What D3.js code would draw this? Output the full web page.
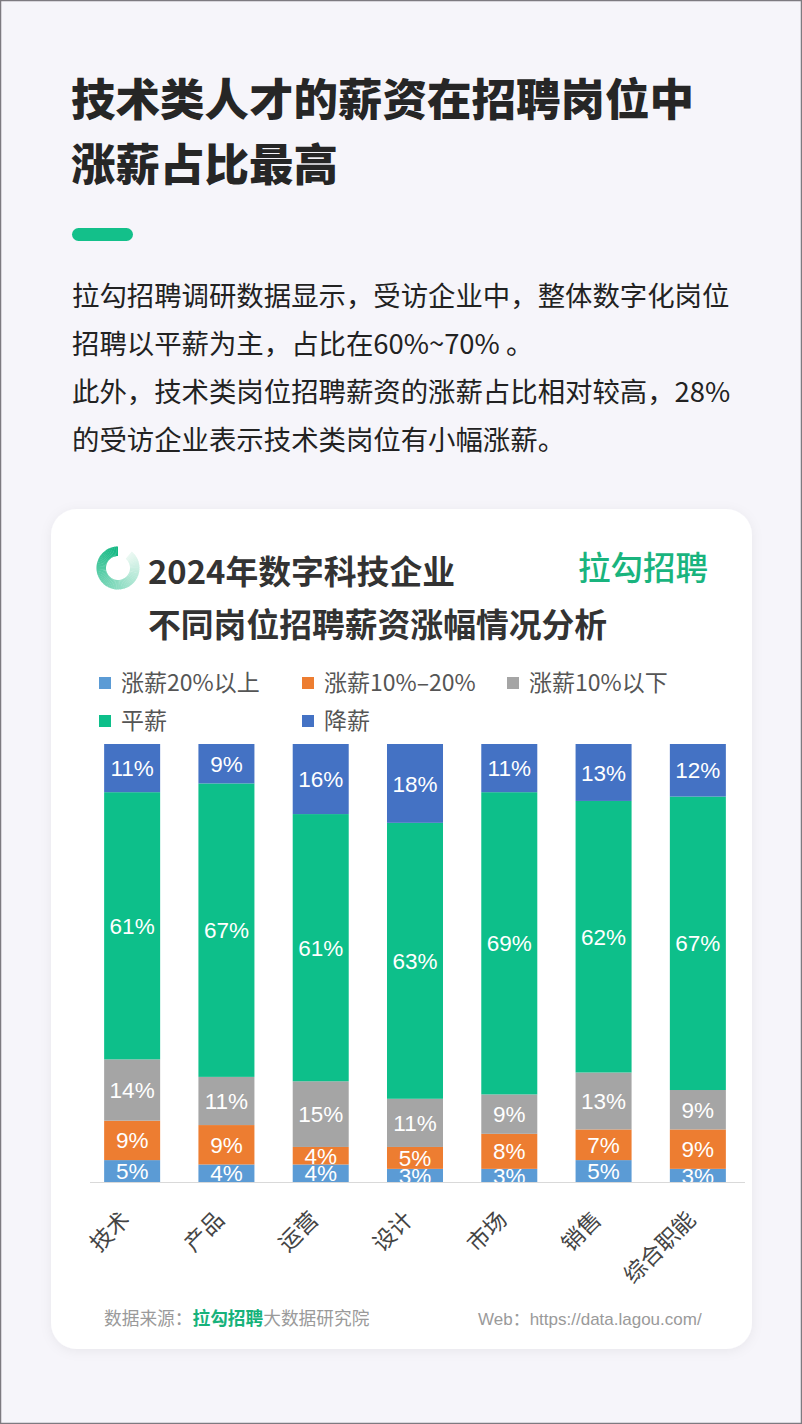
<!DOCTYPE html>
<html>
<head>
<meta charset="utf-8">
<script src="https://cdn.jsdelivr.net/npm/d3@7"></script>
<style>
  html, body { margin: 0; padding: 0; background: #f6f5fa; }
  svg { display: block; }
</style>
</head>
<body>
<svg id="chart" width="802" height="1424"></svg>
<script>
// ---------- data ----------
const categories = ['技术', '产品', '运营', '设计', '市场', '销售', '综合职能'];
const seriesNames = ['涨薪20%以上', '涨薪10%–20%', '涨薪10%以下', '平薪', '降薪'];
const rise20Plus = [5, 4, 4, 3, 3, 5, 3];
const rise10to20 = [9, 9, 4, 5, 8, 7, 9];
const riseBelow10 = [14, 11, 15, 11, 9, 13, 9];
const flatPay = [61, 67, 61, 63, 69, 62, 67];
const payCut = [11, 9, 16, 18, 11, 13, 12];
const seriesColors = ['#5b9bd5', '#ed7d31', '#a5a5a5', '#0dbf8a', '#4472c4'];

const titleLines = ['技术类人才的薪资在招聘岗位中', '涨薪占比最高'];
const paraLines = [
  '拉勾招聘调研数据显示，受访企业中，整体数字化岗位',
  '招聘以平薪为主，占比在60%~70% 。',
  '此外，技术类岗位招聘薪资的涨薪占比相对较高，28%',
  '的受访企业表示技术类岗位有小幅涨薪。'
];
const chartTitleLines = ['2024年数字科技企业', '不同岗位招聘薪资涨幅情况分析'];

const allSeries = [rise20Plus, rise10to20, riseBelow10, flatPay, payCut];
const table = categories.map((c, i) => {
  const o = { cat: c };
  seriesNames.forEach((s, j) => o[s] = allSeries[j][i]);
  return o;
});

const CJK = '"Noto Sans CJK SC", "Noto Sans", sans-serif';
const NUM = '"Liberation Sans", Arial, "Noto Sans CJK SC", sans-serif';

const svg = d3.select('#chart');

// page frame
svg.append('rect').attr('x', 0.5).attr('y', 0.5).attr('width', 801).attr('height', 1423)
  .attr('fill', '#f6f5fa').attr('stroke', '#7d7a80').attr('stroke-width', 1.5);

// heading
svg.append('g').selectAll('text').data(titleLines).join('text')
  .attr('x', 71).attr('y', (d, i) => 116 + i * 65)
  .attr('font-family', CJK).attr('font-weight', 900).attr('font-size', 44.5)
  .attr('fill', '#262626').text(d => d);

svg.append('rect').attr('x', 72).attr('y', 228).attr('width', 61).attr('height', 13)
  .attr('rx', 6.5).attr('fill', '#13c08a');

svg.append('g').selectAll('text').data(paraLines).join('text')
  .attr('x', 72).attr('y', (d, i) => 306 + i * 48)
  .attr('font-family', CJK).attr('font-size', 27.4).attr('fill', '#222')
  .text(d => d);

// card
const defs = svg.append('defs');
const f = defs.append('filter').attr('id', 'shadow').attr('x', '-10%').attr('y', '-10%')
  .attr('width', '120%').attr('height', '120%');
f.append('feDropShadow').attr('dx', 0).attr('dy', 2).attr('stdDeviation', 6)
  .attr('flood-color', '#000').attr('flood-opacity', 0.06);
svg.append('rect').attr('x', 51).attr('y', 509).attr('width', 701).attr('height', 840)
  .attr('rx', 26).attr('fill', '#fff').attr('filter', 'url(#shadow)');

// logo ring
const ring = svg.append('g').attr('transform', 'translate(118,568)');
const startA = 40 * Math.PI / 180, endA = 2 * Math.PI;
const nSeg = 60;
const colI = d3.interpolateRgb('#eaf8f2', '#14b883');
const arcGen = d3.arc().innerRadius(12).outerRadius(21.5);
d3.range(nSeg).forEach(k => {
  const a0 = startA + (endA - startA) * k / nSeg;
  const a1 = startA + (endA - startA) * (k + 1.2) / nSeg;
  ring.append('path').attr('d', arcGen({ startAngle: a0, endAngle: Math.min(a1, endA) }))
    .attr('fill', colI(k / (nSeg - 1)));
});

svg.append('g').selectAll('text').data(chartTitleLines).join('text')
  .attr('x', 148).attr('y', (d, i) => 584 + i * 53)
  .attr('font-family', CJK).attr('font-weight', 700).attr('font-size', 32.8)
  .attr('fill', '#333').text(d => d);

svg.append('text').attr('x', 578).attr('y', 580)
  .attr('font-family', CJK).attr('font-weight', 500).attr('font-size', 32.5)
  .attr('fill', '#19b47e').text('拉勾招聘');

// legend
const legendPos = [[99, 683], [302, 683], [507, 683], [99, 721], [302, 721]];
const lg = svg.append('g').selectAll('g').data(seriesNames).join('g')
  .attr('transform', (d, i) => `translate(${legendPos[i][0]},${legendPos[i][1]})`);
lg.append('rect').attr('x', 0).attr('y', -6).attr('width', 12).attr('height', 12)
  .attr('fill', (d, i) => seriesColors[i]);
lg.append('text').attr('x', 22).attr('y', 0).attr('dy', '0.36em')
  .attr('font-family', CJK).attr('font-size', 23).attr('fill', '#555').text(d => d);

// chart
const x = d3.scaleBand().domain(categories).range([85, 745])
  .paddingInner(0.406).paddingOuter(0.203);
const y = d3.scaleLinear().domain([0, 100]).range([1182, 744]);

const stack = d3.stack().keys(seriesNames)(table);

defs.append('clipPath').attr('id', 'plotclip').append('rect')
  .attr('x', 60).attr('y', 700).attr('width', 700).attr('height', 1182 - 700);

const layers = svg.append('g').selectAll('g').data(stack).join('g')
  .attr('fill', (d, i) => seriesColors[i]);
layers.selectAll('rect').data(d => d).join('rect')
  .attr('x', d => x(d.data.cat)).attr('width', x.bandwidth())
  .attr('y', d => y(d[1])).attr('height', d => y(d[0]) - y(d[1]));

// axis baseline
const axis = svg.append('g').attr('transform', 'translate(0,1182)')
  .call(d3.axisBottom(x).tickSize(0).tickFormat(''));
axis.select('.domain').attr('stroke', '#d9d9d9').attr('stroke-width', 1.2)
  .attr('d', 'M90,0.5H745');

// labels
const labelG = svg.append('g').attr('clip-path', 'url(#plotclip)');
stack.forEach(layer => {
  labelG.selectAll(null).data(layer).join('text')
    .attr('x', d => x(d.data.cat) + x.bandwidth() / 2)
    .attr('y', d => (y(d[0]) + y(d[1])) / 2)
    .attr('dy', '0.36em')
    .attr('text-anchor', 'middle')
    .attr('font-family', NUM).attr('font-size', 22.5).attr('fill', '#fff')
    .text(d => (d[1] - d[0]) + '%');
});

// x labels rotated
svg.append('g').selectAll('text').data(categories).join('text')
  .attr('transform', d => `translate(${x(d) + x.bandwidth() / 2 - 12},${1210}) rotate(-45)`)
  .attr('text-anchor', 'end').attr('dy', '0.7em')
  .attr('font-family', CJK).attr('font-size', 22.5).attr('fill', '#444')
  .text(d => d);

// footer
const ft = svg.append('text').attr('x', 104).attr('y', 1325)
  .attr('font-family', CJK).attr('font-size', 17.7).attr('fill', '#9a9a9a');
ft.append('tspan').text('数据来源：');
ft.append('tspan').attr('fill', '#17b27b').attr('font-weight', 700).text('拉勾招聘');
ft.append('tspan').text('大数据研究院');

svg.append('text').attr('x', 478).attr('y', 1325)
  .attr('font-family', NUM).attr('font-size', 17).attr('fill', '#9a9a9a')
  .text('Web：https://data.lagou.com/');
</script>
</body>
</html>
